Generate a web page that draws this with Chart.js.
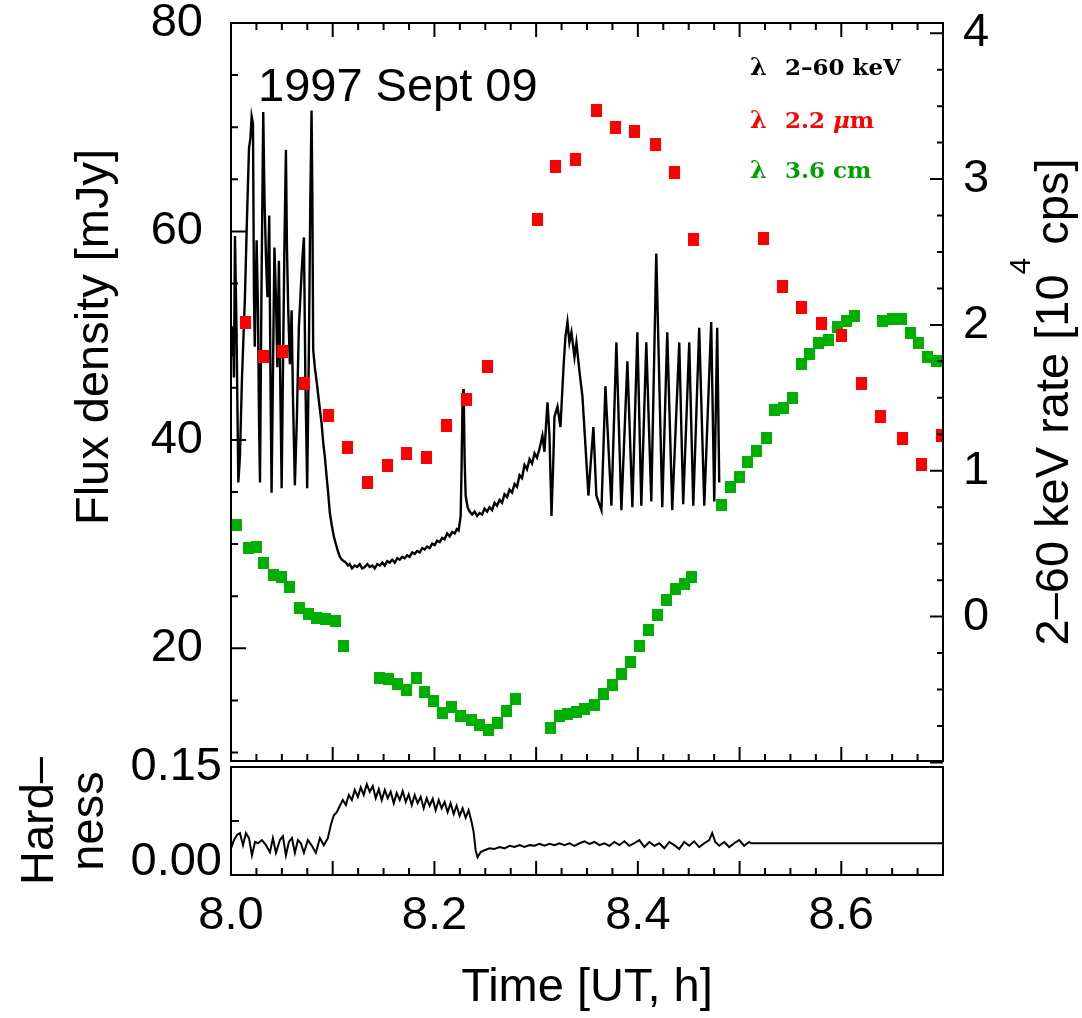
<!DOCTYPE html>
<html>
<head>
<meta charset="utf-8">
<script src="https://cdn.jsdelivr.net/npm/chart.js@4.4.1/dist/chart.umd.min.js"></script>
<style>
  html, body { margin: 0; padding: 0; background: #ffffff; }
  #wrap { position: relative; width: 1082px; height: 1018px; }
  #wrap canvas { position: absolute; left: 0; top: 0; }
</style>
</head>
<body>
<div id="wrap">
  <canvas id="lightCurves" width="1082" height="768"></canvas>
  <canvas id="hardness" width="1082" height="1018"></canvas>
</div>
<script>
// ---- 1997 Sept 09: X-ray, infrared and radio light curves ----

// 2-60 keV count rate [10^4 cps]
const XRAY_T = [
  8.0000, 8.0020, 8.0029, 8.0039, 8.0054, 8.0072, 8.0088, 8.0108, 8.0137, 8.0157,
  8.0177, 8.0191, 8.0203, 8.0216, 8.0226, 8.0234, 8.0252, 8.0265, 8.0275, 8.0285,
  8.0299, 8.0317, 8.0329, 8.0344, 8.0358, 8.0376, 8.0388, 8.0399, 8.0412, 8.0427,
  8.0442, 8.0456, 8.0471, 8.0486, 8.0498, 8.0510, 8.0525, 8.0540, 8.0550, 8.0562,
  8.0579, 8.0596, 8.0609, 8.0628, 8.0648, 8.0667, 8.0687, 8.0702, 8.0717, 8.0731,
  8.0749, 8.0766, 8.0780, 8.0792, 8.0800, 8.0808, 8.0824, 8.0844, 8.0874, 8.0890,
  8.0907, 8.0922, 8.0940, 8.0955, 8.0972, 8.0990, 8.1011, 8.1030, 8.1050, 8.1070,
  8.1090, 8.1110, 8.1130, 8.1150, 8.1168, 8.1190, 8.1215, 8.1240, 8.1266, 8.1290,
  8.1315, 8.1340, 8.1364, 8.1390, 8.1413, 8.1438, 8.1463, 8.1488, 8.1512, 8.1536,
  8.1561, 8.1585, 8.1610, 8.1635, 8.1659, 8.1683, 8.1708, 8.1732, 8.1757, 8.1781,
  8.1806, 8.1830, 8.1855, 8.1880, 8.1904, 8.1928, 8.1953, 8.1978, 8.2002, 8.2026,
  8.2051, 8.2075, 8.2100, 8.2125, 8.2150, 8.2175, 8.2199, 8.2220, 8.2238, 8.2258,
  8.2267, 8.2277, 8.2287, 8.2297, 8.2307, 8.2326, 8.2346, 8.2370, 8.2395, 8.2420,
  8.2444, 8.2468, 8.2493, 8.2518, 8.2542, 8.2567, 8.2591, 8.2615, 8.2640, 8.2665,
  8.2689, 8.2714, 8.2738, 8.2763, 8.2788, 8.2812, 8.2837, 8.2861, 8.2886, 8.2910,
  8.2935, 8.2960, 8.2984, 8.3008, 8.3033, 8.3062, 8.3082, 8.3102, 8.3112, 8.3131,
  8.3151, 8.3170, 8.3180, 8.3210, 8.3239, 8.3269, 8.3288, 8.3308, 8.3327, 8.3347,
  8.3377, 8.3396, 8.3426, 8.3455, 8.3485, 8.3514, 8.3534, 8.3563, 8.3592, 8.3642,
  8.3681, 8.3740, 8.3789, 8.3838, 8.3897, 8.3946, 8.3995, 8.4034, 8.4083, 8.4132,
  8.4181, 8.4240, 8.4289, 8.4338, 8.4407, 8.4446, 8.4505, 8.4545, 8.4603, 8.4653,
  8.4721, 8.4751, 8.4780, 8.4800
];
const XRAY_RATE = [
  1.78, 1.99, 1.64, 2.61, 1.98, 0.92, 1.10, 1.64, 2.19, 2.73,
  3.21, 3.28, 3.43, 3.38, 2.19, 1.85, 2.58, 2.12, 1.37, 0.92,
  2.19, 3.46, 2.87, 2.46, 2.19, 2.75, 1.64, 0.85, 1.64, 2.53,
  2.19, 1.71, 2.44, 1.51, 0.88, 1.64, 2.53, 3.20, 2.53, 2.12,
  1.73, 2.10, 1.51, 0.90, 1.37, 1.98, 2.26, 2.46, 2.60, 1.64,
  0.88, 1.85, 2.87, 3.47, 2.87, 1.83, 1.71, 1.60, 1.42, 1.33,
  1.19, 1.10, 0.96, 0.85, 0.71, 0.63, 0.55, 0.50, 0.45, 0.41,
  0.39, 0.38, 0.37, 0.35, 0.36, 0.33, 0.35, 0.34, 0.36, 0.33,
  0.34, 0.36, 0.34, 0.35, 0.33, 0.36, 0.35, 0.37, 0.35, 0.38,
  0.37, 0.39, 0.37, 0.40, 0.39, 0.41, 0.40, 0.42, 0.41, 0.44,
  0.43, 0.45, 0.44, 0.47, 0.46, 0.48, 0.47, 0.50, 0.49, 0.52,
  0.51, 0.54, 0.53, 0.57, 0.55, 0.58, 0.57, 0.60, 0.59, 0.69,
  1.03, 1.51, 1.56, 1.07, 0.83, 0.75, 0.72, 0.70, 0.72, 0.69,
  0.71, 0.70, 0.74, 0.72, 0.75, 0.73, 0.78, 0.76, 0.80, 0.78,
  0.84, 0.82, 0.87, 0.85, 0.91, 0.89, 0.97, 0.95, 1.04, 1.01,
  1.08, 1.05, 1.12, 1.09, 1.15, 1.24, 1.13, 1.37, 1.47, 1.24,
  0.69, 1.10, 1.37, 1.44, 1.30, 1.71, 1.92, 2.02, 1.88, 1.95,
  1.78, 1.88, 1.68, 1.51, 1.17, 0.83, 1.03, 1.30, 0.83, 0.73,
  1.58, 0.76, 1.88, 0.73, 1.75, 0.75, 1.95, 0.76, 1.88, 0.79,
  2.49, 0.75, 1.95, 0.73, 1.88, 0.77, 1.88, 0.76, 1.98, 0.76,
  2.02, 0.79, 1.98, 0.92
];

// 2.2 micron flux density [mJy]
const RED_T = [
  8.014, 8.032, 8.051, 8.072, 8.096, 8.115, 8.134, 8.154, 8.173, 8.192,
  8.212, 8.232, 8.252, 8.301, 8.319, 8.339, 8.359, 8.378, 8.397, 8.417,
  8.436, 8.455, 8.524, 8.542, 8.561, 8.581, 8.600, 8.620, 8.639, 8.660,
  8.679, 8.699
];
const RED_FLUX = [
  51.3, 48.0, 48.5, 45.4, 42.3, 39.3, 35.9, 37.5, 38.7, 38.3,
  41.4, 43.9, 47.0, 61.1, 66.2, 66.9, 71.6, 70.0, 69.6, 68.3,
  65.7, 59.2, 59.3, 54.7, 52.7, 51.2, 50.0, 45.4, 42.2, 40.1,
  37.6, 40.4
];

// 3.6 cm flux density [mJy]
const GREEN_T = [
  8.005, 8.017, 8.025, 8.032, 8.042, 8.050, 8.058, 8.067, 8.076, 8.084,
  8.093, 8.103, 8.111, 8.146, 8.155, 8.164, 8.173, 8.182, 8.190, 8.199,
  8.208, 8.217, 8.226, 8.236, 8.244, 8.253, 8.262, 8.271, 8.280, 8.314,
  8.323, 8.331, 8.340, 8.348, 8.357, 8.366, 8.375, 8.384, 8.393, 8.402,
  8.410, 8.419, 8.428, 8.437, 8.446, 8.453, 8.482, 8.491, 8.500, 8.508,
  8.517, 8.526, 8.534, 8.543, 8.552, 8.561, 8.569, 8.578, 8.587, 8.596,
  8.605, 8.613, 8.641, 8.650, 8.659, 8.668, 8.676, 8.685, 8.694
];
const GREEN_FLUX = [
  31.8, 29.6, 29.7, 28.2, 27.0, 26.8, 25.9, 23.9, 23.3, 22.9,
  22.8, 22.6, 20.2, 17.2, 17.1, 16.6, 16.0, 17.2, 15.8, 14.9,
  13.8, 14.4, 13.5, 13.1, 12.6, 12.2, 12.8, 14.0, 15.1, 12.4,
  13.5, 13.7, 13.9, 14.2, 14.6, 15.6, 16.5, 17.5, 18.7, 20.2,
  21.8, 23.2, 24.6, 25.7, 26.2, 26.8, 33.8, 35.5, 36.4, 37.9,
  38.9, 40.2, 42.9, 43.1, 44.0, 47.3, 48.2, 49.3, 49.6, 50.8,
  51.4, 51.9, 51.4, 51.6, 51.6, 50.3, 49.3, 48.0, 47.6
];

// X-ray hardness ratio
const HARD_T = [
  8.0000, 8.0029, 8.0059, 8.0088, 8.0118, 8.0147, 8.0177, 8.0206, 8.0236, 8.0265,
  8.0304, 8.0344, 8.0383, 8.0412, 8.0442, 8.0481, 8.0510, 8.0540, 8.0569, 8.0599,
  8.0628, 8.0658, 8.0687, 8.0717, 8.0756, 8.0795, 8.0834, 8.0874, 8.0913, 8.0952,
  8.0982, 8.1011, 8.1040, 8.1070, 8.1099, 8.1129, 8.1158, 8.1188, 8.1217, 8.1247,
  8.1276, 8.1305, 8.1335, 8.1364, 8.1394, 8.1423, 8.1453, 8.1482, 8.1512, 8.1541,
  8.1570, 8.1600, 8.1629, 8.1659, 8.1688, 8.1718, 8.1747, 8.1777, 8.1806, 8.1835,
  8.1865, 8.1894, 8.1924, 8.1953, 8.1983, 8.2012, 8.2042, 8.2071, 8.2100, 8.2130,
  8.2159, 8.2189, 8.2218, 8.2248, 8.2277, 8.2307, 8.2336, 8.2366, 8.2385, 8.2405,
  8.2424, 8.2454, 8.2493, 8.2542, 8.2591, 8.2640, 8.2689, 8.2738, 8.2788, 8.2837,
  8.2886, 8.2935, 8.2984, 8.3033, 8.3082, 8.3131, 8.3180, 8.3229, 8.3278, 8.3327,
  8.3377, 8.3426, 8.3475, 8.3524, 8.3573, 8.3622, 8.3671, 8.3720, 8.3769, 8.3818,
  8.3867, 8.3916, 8.3965, 8.4015, 8.4064, 8.4113, 8.4162, 8.4211, 8.4260, 8.4309,
  8.4358, 8.4407, 8.4456, 8.4505, 8.4554, 8.4603, 8.4653, 8.4702, 8.4731, 8.4761,
  8.4800, 8.4849, 8.4898, 8.4947, 8.4996, 8.5045, 8.5094, 8.5114, 8.7000
];
const HARD_VAL = [
  0.022, 0.035, 0.043, 0.046, 0.027, 0.046, 0.038, 0.011, 0.032, 0.030,
  0.035, 0.027, 0.016, 0.038, 0.015, 0.035, 0.041, 0.011, 0.032, 0.038,
  0.015, 0.035, 0.030, 0.015, 0.035, 0.026, 0.015, 0.038, 0.027, 0.038,
  0.059, 0.074, 0.079, 0.089, 0.098, 0.090, 0.106, 0.098, 0.114, 0.103,
  0.118, 0.106, 0.123, 0.111, 0.120, 0.101, 0.115, 0.098, 0.114, 0.101,
  0.111, 0.093, 0.109, 0.098, 0.112, 0.095, 0.107, 0.090, 0.106, 0.093,
  0.103, 0.085, 0.101, 0.089, 0.100, 0.082, 0.098, 0.085, 0.095, 0.079,
  0.093, 0.076, 0.089, 0.073, 0.085, 0.070, 0.082, 0.063, 0.048, 0.019,
  0.008, 0.016, 0.019, 0.022, 0.021, 0.024, 0.022, 0.026, 0.024, 0.027,
  0.024, 0.027, 0.026, 0.029, 0.026, 0.029, 0.027, 0.030, 0.027, 0.030,
  0.026, 0.030, 0.033, 0.029, 0.032, 0.027, 0.030, 0.026, 0.032, 0.027,
  0.033, 0.026, 0.030, 0.035, 0.024, 0.032, 0.026, 0.030, 0.022, 0.032,
  0.027, 0.021, 0.032, 0.026, 0.033, 0.024, 0.030, 0.035, 0.046, 0.032,
  0.026, 0.032, 0.024, 0.030, 0.035, 0.026, 0.032, 0.030, 0.030
];

// axis labels
const TIME_TICKS = [8.0, 8.2, 8.4, 8.6];
const FLUX_TICKS = [20, 40, 60, 80];
const RATE_TICKS = [0, 1, 2, 3, 4];
const HARD_TICKS = [0.00, 0.15];

// ---------------------------------------------------------------
const SANS = "'Liberation Sans', Arial, Helvetica, sans-serif";
const SERIF = "'DejaVu Serif', 'Liberation Serif', serif";
const RED = '#ff0000';
const GREEN = '#00b000';
const GREEN_TEXT = '#00a000';

Chart.defaults.font.family = SANS;
Chart.defaults.color = '#000';

function boxMarker(w, h, color) {
  const c = document.createElement('canvas');
  c.width = w; c.height = h;
  const g = c.getContext('2d');
  g.fillStyle = color;
  g.fillRect(0, 0, w, h);
  return c;
}

function xy(ts, vs) { return ts.map((t, i) => ({ x: t, y: vs[i] })); }

function steps(a, b, step) {
  const out = [];
  for (let k = 0; a + k * step <= b + 1e-9; k++) out.push(+(a + k * step).toFixed(6));
  return out;
}

// short inward tick marks along one side of the frame
function tickMarks(ctx, scale, values, len, edge, dir) {
  ctx.beginPath();
  values.forEach(v => {
    const p = scale.getPixelForValue(v);
    if (scale.isHorizontal()) { ctx.moveTo(p, edge); ctx.lineTo(p, edge + dir * len); }
    else { ctx.moveTo(edge, p); ctx.lineTo(edge + dir * len, p); }
  });
  ctx.stroke();
}

function fixedWidth(w) {
  return s => { s.width = w; s.paddingTop = 0; s.paddingBottom = 0; };
}

function timeTicks(ctx, x, edge, dir) {
  const all = steps(8.0, 8.7, 0.025);
  const major = all.filter(v => Math.abs(v * 10 - Math.round(v * 10)) < 1e-6);
  const minor = all.filter(v => Math.abs(v * 10 - Math.round(v * 10)) >= 1e-6);
  tickMarks(ctx, x, minor, 7, edge, dir);
  tickMarks(ctx, x, major, 14, edge, dir);
}

// ---- upper panel decorations ----
const upperFrame = {
  id: 'upperFrame',
  afterDraw(chart) {
    const { ctx, chartArea: a } = chart;
    const x = chart.scales.x, yl = chart.scales.y, yr = chart.scales.yr;
    ctx.save();
    ctx.strokeStyle = '#000';
    ctx.lineWidth = 2;
    ctx.strokeRect(a.left, a.top, a.right - a.left, a.bottom - a.top);
    timeTicks(ctx, x, a.top, 1);
    timeTicks(ctx, x, a.bottom, -1);
    const fl = steps(10, 75, 5);
    tickMarks(ctx, yl, fl.filter(v => v % 20 !== 0), 7, a.left, 1);
    tickMarks(ctx, yl, fl.filter(v => v % 20 === 0), 15, a.left, 1);
    const rt = steps(-1, 4, 0.25);
    tickMarks(ctx, yr, rt.filter(v => !Number.isInteger(v)), 6, a.right, -1);
    tickMarks(ctx, yr, rt.filter(v => Number.isInteger(v)), 13, a.right, -1);

    // date
    ctx.fillStyle = '#000';
    ctx.font = `47px ${SANS}`;
    ctx.textAlign = 'left';
    ctx.textBaseline = 'alphabetic';
    ctx.fillText('1997 Sept 09', 258, 101);

    // left axis title
    ctx.save();
    ctx.translate(95, 337);
    ctx.rotate(-Math.PI / 2);
    ctx.textAlign = 'center';
    ctx.textBaseline = 'middle';
    ctx.fillText('Flux density [mJy]', 0, 0);
    ctx.restore();

    // right axis title with 10^4 superscript
    ctx.save();
    ctx.translate(1055, 402);
    ctx.rotate(-Math.PI / 2);
    ctx.textBaseline = 'middle';
    ctx.textAlign = 'left';
    const big = `47px ${SANS}`, small = `30px ${SANS}`;
    const p1 = '2\u201360 keV rate [10', p2 = '4', p3 = ' cps]';
    ctx.font = big; const w1 = ctx.measureText(p1).width, w3 = ctx.measureText(p3).width;
    ctx.font = small; const w2 = ctx.measureText(p2).width;
    let cx = -(w1 + w2 + w3) / 2;
    ctx.font = big; ctx.fillText(p1, cx, 0); cx += w1;
    ctx.font = small; ctx.fillText(p2, cx, -33); cx += w2;
    ctx.font = big; ctx.fillText(p3, cx, 0);
    ctx.restore();

    // legend
    const rows = [
      { c: '#000', parts: [['2\u201360 keV', false]], y: 75 },
      { c: RED, parts: [['2.2 ', false], ['\u03bc', true], ['m', false]], y: 128 },
      { c: GREEN_TEXT, parts: [['3.6 cm', false]], y: 178 }
    ];
    ctx.textBaseline = 'alphabetic';
    rows.forEach(r => {
      ctx.fillStyle = r.c;
      ctx.font = `bold 24px ${SERIF}`;
      ctx.fillText('\u03bb', 750, r.y);
      let px = 785;
      r.parts.forEach(([s, it]) => {
        ctx.font = `${it ? 'italic ' : ''}bold 23px ${SERIF}`;
        ctx.fillText(s, px, r.y);
        px += ctx.measureText(s).width;
      });
    });
    ctx.restore();
  }
};

// ---- lower panel decorations ----
const lowerFrame = {
  id: 'lowerFrame',
  afterDraw(chart) {
    const { ctx, chartArea: a } = chart;
    const x = chart.scales.x, yh = chart.scales.yh;
    ctx.save();
    ctx.strokeStyle = '#000';
    ctx.lineWidth = 2;
    ctx.strokeRect(a.left, a.top, a.right - a.left, a.bottom - a.top);
    timeTicks(ctx, x, a.bottom, -1);
    tickMarks(ctx, yh, [0.065], 8, a.left, 1);

    ctx.fillStyle = '#000';
    ctx.font = `47px ${SANS}`;
    ctx.textAlign = 'center';
    ctx.textBaseline = 'middle';
    ctx.save();
    ctx.translate(40, 821);
    ctx.rotate(-Math.PI / 2);
    ctx.fillText('Hard\u2013', 0, 0);
    ctx.restore();
    ctx.save();
    ctx.translate(90, 821);
    ctx.rotate(-Math.PI / 2);
    ctx.fillText('ness', 0, 0);
    ctx.restore();
    ctx.restore();
  }
};

const tickFont = { family: SANS, size: 47 };

new Chart(document.getElementById('lightCurves'), {
  type: 'line',
  data: {
    datasets: [
      {
        label: '2.2 \u03bcm',
        data: xy(RED_T, RED_FLUX),
        yAxisID: 'y',
        showLine: false,
        pointStyle: boxMarker(11, 13, RED),
        pointRadius: 6,
        order: 1
      },
      {
        label: '3.6 cm',
        data: xy(GREEN_T, GREEN_FLUX),
        yAxisID: 'y',
        showLine: false,
        pointStyle: boxMarker(11, 12, GREEN),
        pointRadius: 6,
        order: 2
      },
      {
        label: '2\u201360 keV',
        data: xy(XRAY_T, XRAY_RATE),
        yAxisID: 'yr',
        borderColor: '#000',
        borderWidth: 2.4,
        pointRadius: 0,
        tension: 0,
        order: 3
      }
    ]
  },
  options: {
    responsive: false,
    animation: false,
    devicePixelRatio: 1,
    events: [],
    layout: { padding: { top: 23, bottom: 1, left: 0, right: 0 } },
    plugins: { legend: { display: false }, tooltip: { enabled: false } },
    scales: {
      x: { type: 'linear', min: 8.0, max: 8.7, display: false },
      y: {
        type: 'linear', position: 'left', min: 9.19, max: 80,
        afterBuildTicks: s => { s.ticks = FLUX_TICKS.map(v => ({ value: v })); },
        afterFit: fixedWidth(231),
        grid: { display: false, drawTicks: false },
        border: { display: false },
        ticks: { font: tickFont, color: '#000', padding: 28, callback: v => String(v) }
      },
      yr: {
        type: 'linear', position: 'right', min: -0.99, max: 4.07,
        afterBuildTicks: s => { s.ticks = RATE_TICKS.map(v => ({ value: v })); },
        afterFit: fixedWidth(1082 - 943),
        grid: { display: false, drawTicks: false },
        border: { display: false },
        ticks: { font: tickFont, color: '#000', padding: 20, callback: v => String(v) }
      }
    }
  },
  plugins: [upperFrame]
});

new Chart(document.getElementById('hardness'), {
  type: 'line',
  data: {
    datasets: [{
      label: 'hardness',
      data: xy(HARD_T, HARD_VAL),
      yAxisID: 'yh',
      borderColor: '#000',
      borderWidth: 2,
      pointRadius: 0,
      tension: 0
    }]
  },
  options: {
    responsive: false,
    animation: false,
    devicePixelRatio: 1,
    events: [],
    layout: { padding: { top: 767, bottom: 0, left: 0, right: 1082 - 943 } },
    plugins: { legend: { display: false }, tooltip: { enabled: false } },
    scales: {
      x: {
        type: 'linear', position: 'bottom', min: 8.0, max: 8.7,
        afterBuildTicks: s => { s.ticks = TIME_TICKS.map(v => ({ value: v })); },
        afterFit: s => { s.height = 1018 - 875; s.paddingLeft = 0; s.paddingRight = 0; },
        grid: { display: false, drawTicks: false },
        border: { display: false },
        ticks: { font: tickFont, color: '#000', padding: 13, maxRotation: 0, autoSkip: false,
                 callback: v => Number(v).toFixed(1) },
        title: { display: true, text: 'Time [UT, h]', font: tickFont, color: '#000',
                 padding: { top: 0, bottom: 2 } }
      },
      yh: {
        type: 'linear', position: 'left', min: -0.02, max: 0.15,
        afterBuildTicks: s => { s.ticks = HARD_TICKS.map(v => ({ value: v })); },
        afterFit: fixedWidth(231),
        grid: { display: false, drawTicks: false },
        border: { display: false },
        ticks: { font: tickFont, color: '#000', padding: 9, callback: v => Number(v).toFixed(2) }
      }
    }
  },
  plugins: [lowerFrame]
});
</script>
</body>
</html>
